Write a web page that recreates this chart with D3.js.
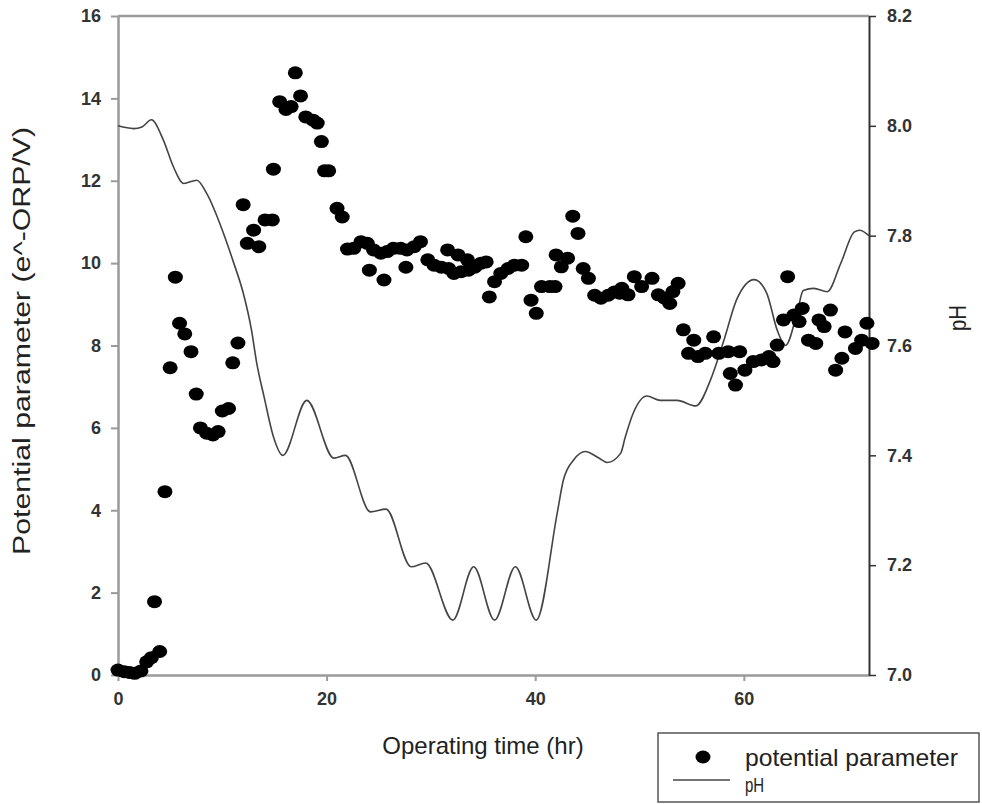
<!DOCTYPE html>
<html><head><meta charset="utf-8">
<script src="https://cdn.jsdelivr.net/npm/d3@7"></script>
<style>
html,body{margin:0;padding:0;background:#fff;}
svg{display:block;font-family:Arial,"Liberation Sans",sans-serif;}
</style></head>
<body>
<svg id="chart" width="982" height="804"></svg>
<script>
// potential parameter scatter: operating time (hr) and value
const potTime = [0.0,0.6,1.1,1.6,2.2,2.75,3.2,3.5,4.0,4.5,5.0,5.5,5.9,6.4,7.0,7.5,7.9,8.5,9.1,9.6,10.0,10.6,11.0,11.5,12.0,12.4,13.0,13.5,14.1,14.8,14.9,15.5,16.1,16.6,17.0,17.5,18.0,18.7,19.1,19.5,19.8,20.2,21.0,21.5,22.0,22.6,23.3,23.9,24.1,24.5,25.2,25.5,25.8,26.4,27.1,27.6,27.7,28.4,29.0,29.7,30.3,31.0,31.6,31.7,32.2,32.6,32.9,33.5,33.6,34.2,34.8,35.3,35.6,36.1,36.7,37.4,38.0,38.7,39.1,39.6,40.1,40.6,41.4,41.9,42.0,42.5,43.1,43.6,44.1,44.6,45.1,45.7,46.3,47.0,47.6,48.1,48.3,48.9,49.5,50.2,51.2,51.8,52.4,52.9,53.2,53.7,54.2,54.7,55.2,55.6,56.3,57.1,57.6,58.5,58.7,59.2,59.6,60.1,60.9,61.7,62.4,62.8,63.2,63.8,64.2,64.8,65.3,65.6,66.2,66.9,67.2,67.7,68.3,68.8,69.4,69.7,70.7,71.3,71.8,72.3];
const potValue = [0.12,0.08,0.06,0.04,0.10,0.32,0.42,1.78,0.57,4.45,7.46,9.66,8.54,8.28,7.85,6.82,6.00,5.87,5.83,5.91,6.41,6.47,7.58,8.06,11.42,10.48,10.80,10.40,11.05,11.05,12.28,13.92,13.73,13.80,14.62,14.06,13.55,13.47,13.40,12.95,12.24,12.24,11.33,11.12,10.34,10.36,10.52,10.48,9.83,10.32,10.24,9.59,10.28,10.36,10.36,9.90,10.32,10.40,10.52,10.08,9.95,9.90,10.32,9.87,9.75,10.20,9.79,10.08,9.83,9.90,10.00,10.03,9.18,9.55,9.75,9.87,9.95,9.95,10.64,9.10,8.78,9.43,9.43,9.43,10.20,9.91,10.12,11.14,10.72,9.87,9.63,9.22,9.15,9.22,9.30,9.27,9.39,9.23,9.67,9.43,9.63,9.23,9.15,9.02,9.31,9.51,8.38,7.81,8.13,7.73,7.81,8.21,7.81,7.85,7.32,7.04,7.85,7.40,7.61,7.65,7.73,7.61,8.01,8.62,9.67,8.74,8.58,8.90,8.13,8.05,8.62,8.46,8.86,7.40,7.69,8.33,7.93,8.13,8.54,8.05];

// pH line
const phTime = [0,1.5,2.3,3.2,4.35,5.3,6.3,7.55,8.5,10.1,11.1,12.0,12.8,13.3,14.0,14.9,15.8,18.1,20.7,21.8,24.2,25.7,28.1,29.5,32.1,34.1,36.1,38.1,40.1,42.1,42.7,43.7,44.8,46.1,46.9,48.2,48.6,49.4,50.7,52.0,53.6,55.4,56.8,58.1,59.3,61.0,62.2,63.2,64.0,65.1,65.7,66.7,68.0,69.3,70.6,71.1,72.0];
const phValue = [8.000,7.995,7.998,8.011,7.974,7.926,7.895,7.901,7.877,7.805,7.750,7.696,7.628,7.568,7.507,7.434,7.400,7.500,7.395,7.400,7.297,7.302,7.197,7.204,7.100,7.197,7.100,7.197,7.100,7.294,7.355,7.392,7.407,7.395,7.387,7.404,7.431,7.477,7.508,7.500,7.500,7.490,7.537,7.610,7.683,7.720,7.695,7.628,7.600,7.659,7.700,7.704,7.698,7.750,7.807,7.810,7.800];

const xTicks = [0,20,40,60];
const yTicks = [0,2,4,6,8,10,12,14,16];
const phTicks = [7.0,7.2,7.4,7.6,7.8,8.0,8.2];

const svg = d3.select("#chart");
const L = 118, R = 869, T = 16, B = 675;
const x = d3.scaleLinear().domain([0,72]).range([L,R]);
const y = d3.scaleLinear().domain([0,16]).range([B,T]);
const yR = d3.scaleLinear().domain([7.0,8.2]).range([B,T]);

const grey = "#9a9a9a";
// top frame
svg.append("line").attr("x1",L).attr("x2",R).attr("y1",T).attr("y2",T)
  .attr("stroke",grey).attr("stroke-width",2.5);

function styleAxis(g, col, w){
  g.select(".domain").attr("stroke",col).attr("stroke-width",w);
  g.selectAll(".tick line").attr("stroke",col).attr("stroke-width",w-0.5);
  g.selectAll(".tick text").attr("fill","#333").attr("font-size","18px")
    .attr("font-weight","bold").attr("font-family","Arial,'Liberation Sans',sans-serif");
}

const gL = svg.append("g").attr("transform",`translate(${L},0)`)
  .call(d3.axisLeft(y).tickValues(yTicks).tickSize(7).tickSizeOuter(0).tickPadding(10).tickFormat(d3.format("d")));
styleAxis(gL, grey, 2.5);

const gB = svg.append("g").attr("transform",`translate(0,${B})`)
  .call(d3.axisBottom(x).tickValues(xTicks).tickSize(6).tickSizeOuter(0).tickPadding(11).tickFormat(d3.format("d")));
styleAxis(gB, grey, 2.5);

const gR = svg.append("g").attr("transform",`translate(${R},0)`)
  .call(d3.axisRight(yR).tickValues(phTicks).tickSize(7).tickSizeOuter(0).tickPadding(11).tickFormat(d3.format(".1f")));
styleAxis(gR, "#333", 2);

// pH line
const phData = phTime.map((t,i)=>({t, v: phValue[i]}));
svg.append("path").datum(phData)
  .attr("fill","none").attr("stroke","#444").attr("stroke-width",1.6)
  .attr("d", d3.line().x(d=>x(d.t)).y(d=>yR(d.v)).curve(d3.curveMonotoneX));

// scatter
const potData = potTime.map((t,i)=>({t, v: potValue[i]}));
svg.append("g").selectAll("ellipse").data(potData).join("ellipse")
  .attr("cx",d=>x(d.t)).attr("cy",d=>y(d.v)).attr("rx",7.5).attr("ry",6.5).attr("fill","#000");

// axis titles
svg.append("text").attr("transform","translate(30,341) rotate(-90)")
  .attr("text-anchor","middle").attr("font-size","23px").attr("fill","#222")
  .attr("textLength",428).attr("lengthAdjust","spacingAndGlyphs")
  .text("Potential parameter (e^-ORP/V)");
svg.append("text").attr("x",483).attr("y",754).attr("text-anchor","middle")
  .attr("font-size","24px").attr("fill","#222").text("Operating time (hr)");
svg.append("text").attr("transform","translate(966,318) rotate(-90)")
  .attr("text-anchor","middle").attr("font-size","23px").attr("fill","#222")
  .attr("textLength",26).attr("lengthAdjust","spacingAndGlyphs").text("pH");

// legend
const lg = svg.append("g");
lg.append("rect").attr("x",658).attr("y",733).attr("width",321).attr("height",69)
  .attr("fill","#fff").attr("stroke","#555").attr("stroke-width",1.5);
lg.append("ellipse").attr("cx",703).attr("cy",757).attr("rx",7.5).attr("ry",6.5).attr("fill","#000");
lg.append("line").attr("x1",673).attr("x2",730).attr("y1",780).attr("y2",780)
  .attr("stroke","#444").attr("stroke-width",1.6);
lg.append("text").attr("x",745).attr("y",766).attr("font-size","24px").attr("fill","#222")
  .attr("textLength",213).attr("lengthAdjust","spacingAndGlyphs").text("potential parameter");
lg.append("text").attr("transform","translate(745,792) scale(1,1.3)").attr("font-size","15px").attr("fill","#222").text("pH");
</script>
</body></html>
